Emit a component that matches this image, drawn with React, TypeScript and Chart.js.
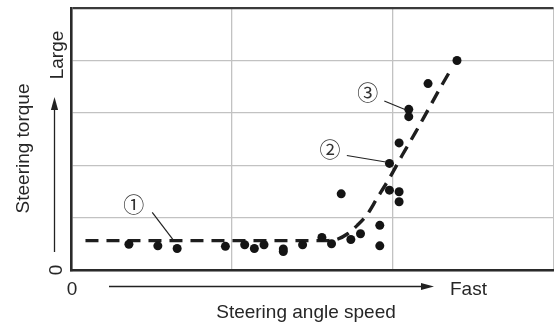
import React, { useEffect, useRef } from 'react';
import { Chart, registerables } from 'chart.js';

Chart.register(...registerables);

// Measured samples (x: steering angle speed, y: steering torque), arbitrary units
const sampleX = [0.36, 0.54, 0.66, 0.96, 1.08, 1.14, 1.20, 1.32, 1.32, 1.44, 1.56, 1.62, 1.68, 1.74, 1.80, 1.92, 1.92, 1.98, 1.98, 2.04, 2.04, 2.04, 2.10, 2.10, 2.22, 2.40];
const sampleY = [0.50, 0.47, 0.42, 0.46, 0.49, 0.42, 0.49, 0.41, 0.36, 0.49, 0.63, 0.51, 1.46, 0.59, 0.70, 0.86, 0.47, 2.04, 1.53, 2.43, 1.50, 1.31, 3.07, 2.93, 3.56, 4.00];

// Dashed trend curve
const curveX = [0.09, 1.60, 1.66, 1.72, 1.78, 1.84, 1.90, 1.98, 2.06, 2.14, 2.22, 2.30, 2.37];
const curveY = [0.57, 0.57, 0.60, 0.70, 0.86, 1.06, 1.36, 1.76, 2.20, 2.62, 3.06, 3.50, 3.87];

// Grid ticks
const xTicks = [0, 1, 2, 3];
const yTicks = [0, 1, 2, 3, 4, 5];

// Annotations (data units)
const noteLabels = ['①', '②', '③'];
const noteX = [0.39, 1.61, 1.845];
const noteY = [1.27, 2.31, 3.40];
const leaderFromX = [0.505, 1.715, 1.948];
const leaderFromY = [1.109, 2.19, 3.229];
const leaderToX = [0.633, 1.957, 2.084];
const leaderToY = [0.594, 2.067, 3.057];

// Axis texts
const xTitle = 'Steering angle speed';
const yTitle = 'Steering torque';
const xLowLabel = '0';
const xHighLabel = 'Fast';
const yLowLabel = '0';
const yHighLabel = 'Large';

const FONT = '19px "Liberation Sans", Arial, sans-serif';
const TEXT = '#262626';

function arrow(ctx: CanvasRenderingContext2D, x1: number, y1: number, x2: number, y2: number) {
  const ang = Math.atan2(y2 - y1, x2 - x1);
  const len = 13;
  const hw = 3.6;
  ctx.save();
  ctx.strokeStyle = '#222';
  ctx.fillStyle = '#222';
  ctx.lineWidth = 1.3;
  ctx.beginPath();
  ctx.moveTo(x1, y1);
  ctx.lineTo(x2 - Math.cos(ang) * (len - 2), y2 - Math.sin(ang) * (len - 2));
  ctx.stroke();
  ctx.beginPath();
  ctx.moveTo(x2, y2);
  ctx.lineTo(x2 - Math.cos(ang) * len - Math.sin(ang) * hw, y2 - Math.sin(ang) * len + Math.cos(ang) * hw);
  ctx.lineTo(x2 - Math.cos(ang) * len + Math.sin(ang) * hw, y2 - Math.sin(ang) * len - Math.cos(ang) * hw);
  ctx.closePath();
  ctx.fill();
  ctx.restore();
}

function rotatedText(ctx: CanvasRenderingContext2D, text: string, baselineX: number, centerY: number) {
  ctx.save();
  ctx.translate(baselineX, centerY);
  ctx.rotate(-Math.PI / 2);
  ctx.textAlign = 'center';
  ctx.textBaseline = 'alphabetic';
  ctx.fillText(text, 0, 0);
  ctx.restore();
}

const decorPlugin = {
  id: 'decor',
  afterDatasetsDraw(chart: any) {
    const { ctx, chartArea, scales } = chart;
    const xs = scales.x;
    const ys = scales.y;
    const L = chartArea.left;
    const B = chartArea.bottom;
    ctx.save();
    ctx.font = FONT;
    ctx.fillStyle = TEXT;
    // x axis texts
    ctx.textAlign = 'center';
    ctx.textBaseline = 'alphabetic';
    ctx.fillText(xLowLabel, L + 1, B + 24.5);
    ctx.textAlign = 'left';
    ctx.fillText(xHighLabel, L + 379, B + 24.5);
    ctx.textAlign = 'center';
    ctx.fillText(xTitle, L + 235, B + 47);
    arrow(ctx, L + 38, B + 16, L + 363, B + 16);
    // y axis texts
    rotatedText(ctx, yLowLabel, L - 9.5, B - 0.5);
    rotatedText(ctx, yHighLabel, L - 8, chartArea.top + 47);
    rotatedText(ctx, yTitle, L - 42.5, chartArea.top + 140.5);
    arrow(ctx, L - 16.5, B - 18.5, L - 16.5, chartArea.top + 89);
    // annotations
    ctx.strokeStyle = '#222';
    ctx.lineWidth = 1.2;
    for (let i = 0; i < noteLabels.length; i++) {
      ctx.beginPath();
      ctx.moveTo(xs.getPixelForValue(leaderFromX[i]), ys.getPixelForValue(leaderFromY[i]));
      ctx.lineTo(xs.getPixelForValue(leaderToX[i]), ys.getPixelForValue(leaderToY[i]));
      ctx.stroke();
    }
    ctx.font = '21px "Noto Sans CJK JP", "DejaVu Sans", sans-serif';
    ctx.fillStyle = '#333';
    ctx.textAlign = 'center';
    ctx.textBaseline = 'middle';
    for (let i = 0; i < noteLabels.length; i++) {
      ctx.fillText(noteLabels[i], xs.getPixelForValue(noteX[i]), ys.getPixelForValue(noteY[i]));
    }
    ctx.restore();
  },
};

export default function App() {
  const ref = useRef<HTMLCanvasElement | null>(null);
  useEffect(() => {
    if (!ref.current) return;
    const chart = new Chart(ref.current, {
      type: 'scatter',
      data: {
        datasets: [
          {
            label: 'samples',
            data: sampleX.map((x, i) => ({ x, y: sampleY[i] })),
            pointRadius: 4.5,
            pointBackgroundColor: '#141414',
            pointBorderWidth: 0,
            showLine: false,
          },
          {
            label: 'trend',
            data: curveX.map((x, i) => ({ x, y: curveY[i] })),
            showLine: true,
            borderColor: '#1e1e1e',
            borderWidth: 3.4,
            borderDash: [13, 8],
            pointRadius: 0,
            tension: 0.4,
            cubicInterpolationMode: 'monotone',
          } as any,
        ],
      },
      options: {
        animation: false,
        responsive: false,
        devicePixelRatio: 1,
        layout: { autoPadding: false, padding: { left: 71, right: 0.5, top: 8, bottom: 53.5 } },
        plugins: { legend: { display: false }, tooltip: { enabled: false } },
        scales: {
          x: {
            type: 'linear',
            min: 0,
            max: 3,
            afterBuildTicks: (s: any) => { s.ticks = xTicks.map((v) => ({ value: v })); },
            afterFit: (s: any) => { s.height = 0; },
            ticks: { display: false },
            grid: {
              drawTicks: false,
              color: '#c2c2c2',
              lineWidth: 1.3,
            },
            border: { display: true, color: '#2a2a2a', width: 2.6 },
          },
          y: {
            type: 'linear',
            min: 0,
            max: 5,
            afterBuildTicks: (s: any) => { s.ticks = yTicks.map((v) => ({ value: v })); },
            afterFit: (s: any) => { s.width = 0; },
            ticks: { display: false },
            grid: {
              drawTicks: false,
              color: (c: any) => (c.tick && c.tick.value === 5 ? '#3a3a3a' : '#c2c2c2'),
              lineWidth: (c: any) => (c.tick && c.tick.value === 5 ? 2.2 : 1.3),
            },
            border: { display: true, color: '#2a2a2a', width: 2.6 },
          },
        },
      },
      plugins: [decorPlugin],
    });
    return () => chart.destroy();
  }, []);
  return (
    <div style={{ position: 'fixed', left: 0, top: 0, width: 554, height: 324, background: '#fff' }}>
      <canvas ref={ref} width={554} height={324} style={{ width: 554, height: 324, display: 'block' }} />
    </div>
  );
}
